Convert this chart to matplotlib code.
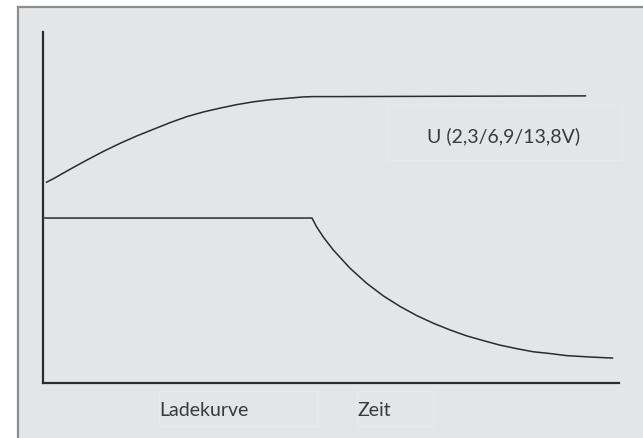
import matplotlib
matplotlib.use('Agg')
import matplotlib.pyplot as plt
from matplotlib.patches import Rectangle
from matplotlib.lines import Line2D

# Ladekurve: Spannung (U) und Strom ueber der Zeit, beliebige Einheiten
u_t = [0.5, 1.8, 4.7, 7.6, 10.5, 13.4, 16.3, 19.2, 22.1, 25.0, 27.8, 30.7,
       33.6, 36.5, 39.4, 42.3, 45.2, 46.9, 51.6, 94.3]
u_v = [57.1, 58.2, 60.9, 63.5, 66.0, 68.3, 70.4, 72.3, 74.2, 75.9, 77.2, 78.3,
       79.3, 80.1, 80.7, 81.1, 81.5, 81.6, 81.6, 81.8]

i_t = [0.2, 46.7, 47.5, 48.7, 50.4, 53.3, 56.2, 59.1, 62.0, 64.9, 67.8, 70.7,
       73.6, 76.4, 79.3, 82.2, 85.1, 88.0, 90.9, 95.0, 99.0]
i_v = [47.0, 47.0, 44.5, 41.5, 37.9, 32.7, 28.4, 24.8, 21.8, 19.2, 17.0, 15.1,
       13.4, 12.1, 10.8, 9.8, 8.9, 8.4, 7.8, 7.4, 7.1]

u_label = 'U (2,3/6,9/13,8V)'
x_labels = ['Ladekurve', 'Zeit']

W, H = 643, 438
def fx(px):
    return px / W
def fy(py):
    return 1 - py / H

fig = plt.figure(figsize=(W / 100, H / 100), dpi=100)
fig.patch.set_facecolor('white')

# grauer Hintergrund mit Rahmen oben/links
fig.patches.append(Rectangle((fx(17), 0), 1 - fx(17), fy(7), transform=fig.transFigure,
                             facecolor='#e4e5e7', edgecolor='none', zorder=-5))
fig.add_artist(Line2D([fx(18), 1], [fy(7), fy(7)], transform=fig.transFigure,
                      color='#8e8e8e', lw=1.6, zorder=-4))
fig.add_artist(Line2D([fx(18), fx(18)], [0, fy(7)], transform=fig.transFigure,
                      color='#8e8e8e', lw=1.6, zorder=-4))

# Textfelder mit schwachen Rahmen
for x0, y0, x1, y1 in [(387, 105, 622, 160), (159, 391, 317, 426), (357, 391, 433, 426)]:
    fig.patches.append(Rectangle((fx(x0), fy(y1)), fx(x1) - fx(x0), fy(y0) - fy(y1),
                                 transform=fig.transFigure, facecolor='none',
                                 edgecolor='#e9eaec', lw=0.7, zorder=-3))

ax = fig.add_axes([fx(43), fy(383), fx(619) - fx(43), fy(32) - fy(383)])
ax.set_facecolor('none')
ax.set_xlim(0, 100)
ax.set_ylim(0, 100)
for s in ['top', 'right']:
    ax.spines[s].set_visible(False)
for s in ['left', 'bottom']:
    ax.spines[s].set_color('#2b2b2d')
    ax.spines[s].set_linewidth(1.6)
ax.set_xticks([])
ax.set_yticks([])

ax.plot(u_t, u_v, color='#2b2b2d', lw=1.1, solid_capstyle='butt')
ax.plot(i_t, i_v, color='#2b2b2d', lw=1.1, solid_capstyle='butt')

font = dict(family=['Lato', 'DejaVu Sans'], weight='normal', size=14, color='#3a3a3c')
fig.text(fx(427), fy(136), u_label, va='center', ha='left', **font)
fig.text(fx(159), fy(411), x_labels[0], va='center', ha='left', **font)
fig.text(fx(357), fy(411), x_labels[1], va='center', ha='left', **font)

fig.savefig('out.png', dpi=100)
